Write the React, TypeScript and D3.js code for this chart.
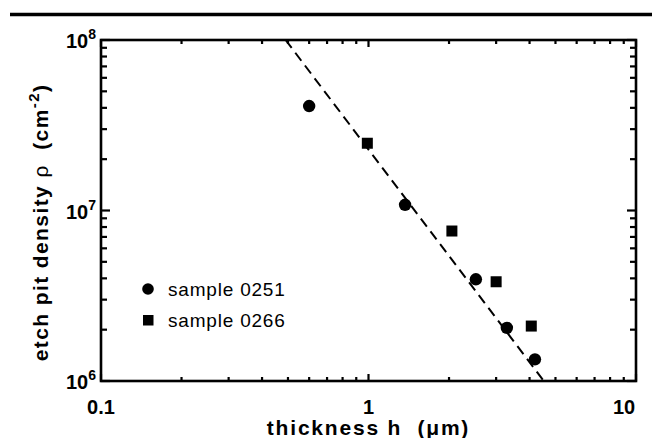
import React from 'react';
import * as d3 from 'd3';

// sample 0251 (circles)
const h0251 = [0.6, 1.37, 2.52, 3.29, 4.19];
const rho0251 = [4.1e7, 1.08e7, 3.95e6, 2.05e6, 1.34e6];

// sample 0266 (squares)
const h0266 = [0.99, 2.05, 3.0, 4.06];
const rho0266 = [2.48e7, 7.58e6, 3.82e6, 2.1e6];

// dashed fit line end points
const fitH = [0.49, 4.52];
const fitRho = [1e8, 1e6];

const xDomain = [0.1, 10];
const yDomain = [1e6, 1e8];
const xTickVals = [0.1, 1, 10];
const xTickLabels = ['0.1', '1', '10'];
const yTickVals = [1e6, 1e7, 1e8];
const yTickExps = ['6', '7', '8'];
const legendLabels = ['sample 0251', 'sample 0266'];

const W = 652;
const H = 438;
const margin = { top: 40, right: 16, bottom: 57, left: 101 };
const FONT = '"Liberation Sans", Arial, Helvetica, sans-serif';

const App = () => {
  const x = d3.scaleLog().domain(xDomain).range([margin.left, W - margin.right]);
  const y = d3.scaleLog().domain(yDomain).range([H - margin.bottom, margin.top]);
  const [x0, x1] = x.range();
  const [y0, y1] = y.range();

  const isMajor = (v: number) => Math.abs(Math.log10(v) - Math.round(Math.log10(v))) < 1e-9;
  const xTicks = x.ticks();
  const yTicks = y.ticks();

  const line = d3
    .line<number>()
    .x((_, i) => x(fitH[i]))
    .y((d) => y(d));

  return (
    <svg
      width={W}
      height={H}
      style={{ position: 'absolute', left: 0, top: 0, background: '#fff' }}
      fontFamily={FONT}
    >
      {/* rule across the top */}
      <line x1={10} x2={W} y1={14.5} y2={14.5} stroke="#000" strokeWidth={3.5} />

      {/* ticks on all four sides, pointing inward */}
      {xTicks.map((t, i) => {
        const len = isMajor(t) ? 7 : 4;
        return (
          <g key={`xt-${i}`}>
            <line x1={x(t)} x2={x(t)} y1={y0} y2={y0 - len} stroke="#000" strokeWidth={2.2} />
            <line x1={x(t)} x2={x(t)} y1={y1} y2={y1 + len} stroke="#000" strokeWidth={2.2} />
          </g>
        );
      })}
      {yTicks.map((t, i) => {
        const len = isMajor(t) ? 9 : 6;
        return (
          <g key={`yt-${i}`}>
            <line x1={x0} x2={x0 + len} y1={y(t)} y2={y(t)} stroke="#000" strokeWidth={2.2} />
            <line x1={x1} x2={x1 - len} y1={y(t)} y2={y(t)} stroke="#000" strokeWidth={2.2} />
          </g>
        );
      })}

      {/* frame */}
      <rect x={x0} y={y1} width={x1 - x0} height={y0 - y1} fill="none" stroke="#000" strokeWidth={2.6} />

      {/* x tick labels */}
      {xTickVals.map((t, i) => (
        <text
          key={`xl-${i}`}
          x={i === xTickVals.length - 1 ? x(t) - 12 : x(t)}
          y={y0 + 33}
          textAnchor="middle"
          fontSize={20}
          fontWeight="bold"
        >
          {xTickLabels[i]}
        </text>
      ))}

      {/* y tick labels */}
      {yTickVals.map((t, i) => (
        <text key={`yl-${i}`} x={x0 - 35} y={y(t) + 8} textAnchor="start" fontSize={20} fontWeight="bold">
          10
          <tspan fontSize={14} dy={-9}>
            {yTickExps[i]}
          </tspan>
        </text>
      ))}

      {/* axis titles */}
      <text
        x={(x0 + x1) / 2}
        y={H - 3}
        textAnchor="middle"
        fontSize={21}
        fontWeight="bold"
        letterSpacing={1.8}
        style={{ whiteSpace: 'pre' }}
      >
        thickness h  (μm)
      </text>
      <text
        transform={`translate(48,${(y0 + y1) / 2 + 12}) rotate(-90)`}
        textAnchor="middle"
        fontSize={21}
        fontWeight="bold"
        letterSpacing={1.4}
        style={{ whiteSpace: 'pre' }}
      >
        etch pit density
        <tspan fontWeight="normal"> ρ</tspan>
        {'  (cm'}
        <tspan fontSize={15} dy={-9}>
          -2
        </tspan>
        <tspan dy={9}>)</tspan>
      </text>

      {/* fit line */}
      <path d={line(fitRho) || ''} fill="none" stroke="#000" strokeWidth={2} strokeDasharray="10,6" />

      {/* data */}
      {h0251.map((h, i) => (
        <circle key={`c-${i}`} cx={x(h)} cy={y(rho0251[i])} r={6.2} fill="#000" />
      ))}
      {h0266.map((h, i) => (
        <rect key={`s-${i}`} x={x(h) - 5.5} y={y(rho0266[i]) - 5.5} width={11} height={11} fill="#000" />
      ))}

      {/* legend */}
      <circle cx={148} cy={289} r={5.8} fill="#000" />
      <text x={168} y={296} fontSize={19} letterSpacing={0.8}>
        {legendLabels[0]}
      </text>
      <rect x={143} y={315} width={10.5} height={10.5} fill="#000" />
      <text x={168} y={327} fontSize={19} letterSpacing={0.8}>
        {legendLabels[1]}
      </text>
    </svg>
  );
};

export default App;
